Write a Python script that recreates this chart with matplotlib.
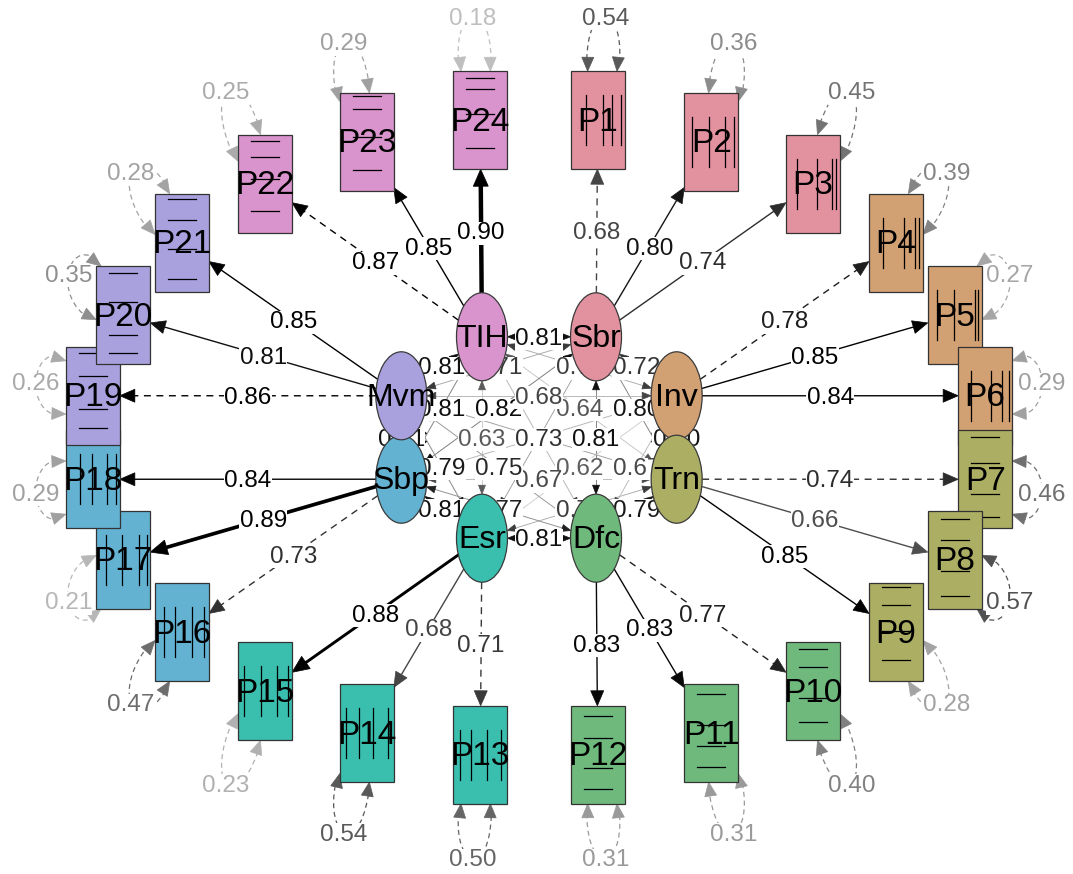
import numpy as np
import matplotlib
matplotlib.use("Agg")
import matplotlib.pyplot as plt
from matplotlib.patches import Ellipse, Rectangle, Polygon, PathPatch
from matplotlib.path import Path

plt.rcParams['font.family'] = ['Liberation Sans', 'DejaVu Sans']

# ---------------- data ----------------
latents = ["TIH", "Sbr", "Inv", "Trn", "Dfc", "Esr", "Sbp", "Mvm"]
latent_colors = ["#D993CD", "#E2919F", "#D1A073", "#ACAE64",
                 "#6FB97D", "#3ABEAE", "#63B2D2", "#A9A1DE"]

indicators = ["P%d" % i for i in range(1, 25)]
indicator_factor = (["Sbr"] * 3 + ["Inv"] * 3 + ["Trn"] * 3 + ["Dfc"] * 3 +
                    ["Esr"] * 3 + ["Sbp"] * 3 + ["Mvm"] * 3 + ["TIH"] * 3)
loadings = [0.68, 0.80, 0.74, 0.78, 0.85, 0.84, 0.74, 0.66, 0.85,
            0.77, 0.83, 0.83, 0.71, 0.68, 0.88, 0.73, 0.89, 0.84,
            0.86, 0.81, 0.85, 0.87, 0.85, 0.90]
fixed_first = [True, False, False] * 8
residuals = [0.54, 0.36, 0.45, 0.39, 0.27, 0.29, 0.46, 0.57, 0.28,
             0.40, 0.31, 0.31, 0.50, 0.54, 0.23, 0.47, 0.21, 0.29,
             0.26, 0.35, 0.28, 0.25, 0.29, 0.18]

thresholds = [
    [-1.3, 0.6, 1.6, 2.6], [-2.1, -0.3, 1.5, 2.5], [-1.8, 0.4, 2.1, 2.6],
    [-1.4, 0.9, 2.1, 2.6], [-2.0, -0.1, 2.2, 2.6], [-1.6, 0.7, 1.9, 2.6],
    [-2.3, -0.9, 1.0, 2.6], [-2.2, -0.7, 1.2, 2.5], [-1.7, 0.1, 1.7, 2.8],
    [-1.9, -0.4, 1.5, 2.6], [-2.1, -0.8, 0.5, 2.4], [-2.1, -0.8, 1.0, 2.4],
    [-2.3, -1.0, 0.7, 2.3], [-2.3, -0.9, 0.7, 2.4], [-2.3, -0.5, 1.3, 2.5],
    [-2.0, -0.8, 1.1, 2.5], [-1.9, -0.1, 1.8, 2.6], [-1.4, -0.1, 1.6, 2.6],
    [-2.0, -0.8, 1.2, 2.6], [-2.3, -1.2, 0.8, 2.6], [-2.2, -0.4, 1.4, 2.7],
    [-1.7, 0.3, 1.6, 2.6], [-1.7, 0.3, 2.0, 2.8], [-1.7, 0.4, 1.9, 2.6],
]
horizontal_factors = ["Trn", "Dfc", "Mvm", "TIH"]

cor_a = ["TIH", "TIH", "TIH", "TIH", "TIH", "TIH", "TIH",
         "Sbr", "Sbr", "Sbr", "Sbr", "Sbr", "Sbr",
         "Inv", "Inv", "Inv", "Inv", "Inv",
         "Trn", "Trn", "Trn", "Trn",
         "Dfc", "Dfc", "Dfc",
         "Esr", "Esr", "Sbp"]
cor_b = ["Sbr", "Inv", "Trn", "Dfc", "Esr", "Sbp", "Mvm",
         "Inv", "Trn", "Dfc", "Esr", "Sbp", "Mvm",
         "Trn", "Dfc", "Esr", "Sbp", "Mvm",
         "Dfc", "Esr", "Sbp", "Mvm",
         "Esr", "Sbp", "Mvm",
         "Sbp", "Mvm", "Mvm"]
cor_val = [0.81, 0.70, 0.64, 0.68, 0.63, 0.81, 0.81,
           0.72, 0.80, 0.81, 0.73, 0.82, 0.71,
           0.80, 0.67, 0.62, 0.68, 0.68,
           0.79, 0.70, 0.67, 0.73,
           0.81, 0.77, 0.75,
           0.81, 0.79, 0.81]

# ---------------- layout (pixel space) ----------------
W, H = 1073, 874
fig = plt.figure(figsize=(W / 100, H / 100), dpi=100)
ax = fig.add_axes([0, 0, 1, 1])
ax.set_xlim(0, W)
ax.set_ylim(H, 0)
ax.axis("off")

CX, CY = 539.0, 437.5
MAN_A, MAN_B = 450.0, 320.0
LAT_A, LAT_B = 149.0, 109.0
BOX_HW, BOX_HH = 27.0, 49.0
ELL_A, ELL_B = 25.5, 44.0


def dvec(deg):
    r = np.radians(deg)
    return np.array([np.sin(r), -np.cos(r)])


lat_pos = {}
for k, name in enumerate(latents):
    ang = -22.5 + 45 * k
    lat_pos[name] = np.array([CX + LAT_A * np.sin(np.radians(ang)),
                              CY - LAT_B * np.cos(np.radians(ang))])
lat_col = dict(zip(latents, latent_colors))

man_ang = [7.5 + 15 * i for i in range(24)]
man_pos = [np.array([CX + MAN_A * np.sin(np.radians(a)),
                     CY - MAN_B * np.cos(np.radians(a))]) for a in man_ang]


def box_border(c, d):
    tx = BOX_HW / abs(d[0]) if abs(d[0]) > 1e-9 else np.inf
    ty = BOX_HH / abs(d[1]) if abs(d[1]) > 1e-9 else np.inf
    return c + min(tx, ty) * d


def ell_border(c, d):
    t = 1.0 / np.sqrt((d[0] / ELL_A) ** 2 + (d[1] / ELL_B) ** 2)
    return c + t * d


def arrowhead(tip, d, length, halfw, color, z):
    d = d / np.linalg.norm(d)
    base = tip - length * d
    perp = np.array([-d[1], d[0]])
    ax.add_patch(Polygon([tip, base + halfw * perp, base - halfw * perp],
                         closed=True, fc=color, ec=color, lw=0.5, zorder=z))


def fade(v):
    g = float(np.clip((0.85 - v) * 1.6, 0, 0.5))
    return (g, g, g)


LBL = 17.5
bbox = dict(boxstyle="square,pad=0.02", fc="white", ec="none")

# ---------------- latent correlations ----------------
for a, b, v in zip(cor_a, cor_b, cor_val):
    p, q = lat_pos[a], lat_pos[b]
    d = (q - p) / np.linalg.norm(q - p)
    s = ell_border(p, d)
    e = ell_border(q, -d)
    col = fade(v)
    lc = tuple(min(1, x + 0.45) for x in col)
    ax.plot([s[0] + 7 * d[0], e[0] - 7 * d[0]], [s[1] + 7 * d[1], e[1] - 7 * d[1]],
            color=lc, lw=0.7, zorder=1)
    arrowhead(s, -d, 9, 3.5, col, 2)
    arrowhead(e, d, 9, 3.5, col, 2)
    m = (s + e) / 2 if np.dot(e - s, d) > 0 else (p + q) / 2
    ax.text(m[0], m[1] + 2, "%.2f" % v, ha="center", va="center", fontsize=LBL,
            color=col, bbox=bbox, zorder=3)

# ---------------- loadings ----------------
for i in range(24):
    f = indicator_factor[i]
    p = lat_pos[f]
    c = man_pos[i]
    v = loadings[i]
    d = (c - p) / np.linalg.norm(c - p)
    s = ell_border(p, d)
    e = box_border(c, -d)
    col = fade(v)
    lw = 1.0 if v < 0.875 else 1.0 + (v - 0.86) * 55
    ls = (0, (5, 4)) if fixed_first[i] else "-"
    alen = 15 if v < 0.875 else 17
    ax.plot([s[0], e[0] - alen * 0.8 * d[0]], [s[1], e[1] - alen * 0.8 * d[1]],
            color=col, lw=lw, ls=ls, zorder=1)
    arrowhead(e, d, alen, 6.5 if v < 0.875 else 7.5, col, 2)
    m = (s + e) / 2
    ax.text(m[0], m[1] + 2, "%.2f" % v, ha="center", va="center", fontsize=LBL,
            color=col, bbox=bbox, zorder=3)


# ---------------- residual loops (built in box-normalised space) ----------------
SCALE = np.array([BOX_HW, BOX_HH])


def norm_border(deg):
    d = dvec(deg)
    return d / max(abs(d[0]), abs(d[1]))


for i in range(24):
    c = man_pos[i]
    a = man_ang[i]
    v = residuals[i]
    g = float(np.clip(0.75 - (v - 0.18) * 1.11, 0.3, 0.8))
    col = (g, g, g)
    t1n = norm_border(a - 28)
    t2n = norm_border(a + 28)
    apex = norm_border(a) + 1.12 * dvec(a)
    P0 = t1n + 0.25 * dvec(a - 15)
    P3 = t2n + 0.25 * dvec(a + 15)
    Q = (apex - 0.125 * (P0 + P3)) / 0.75
    P1 = Q + 0.65 * dvec(a - 90)
    P2 = Q + 0.65 * dvec(a + 90)
    pts = [c + pt * SCALE for pt in (P0, P1, P2, P3)]
    path = Path(pts, [Path.MOVETO, Path.CURVE4, Path.CURVE4, Path.CURVE4])
    ax.add_patch(PathPatch(path, fc="none", ec=col, lw=0.9, ls=(0, (4, 3)),
                           zorder=1))
    T1 = c + t1n * SCALE
    T2 = c + t2n * SCALE
    arrowhead(T1, T1 - pts[1], 14, 6, col, 2)
    arrowhead(T2, T2 - pts[2], 14, 6, col, 2)
    mid = c + apex * SCALE
    ax.text(mid[0], mid[1] + 2, "%.2f" % v, ha="center", va="center",
            fontsize=LBL, color=col, bbox=bbox, zorder=3)

# ---------------- latent nodes ----------------
for k, name in enumerate(latents):
    p = lat_pos[name]
    ax.add_patch(Ellipse(p, 2 * ELL_A, 2 * ELL_B, fc=lat_col[name],
                         ec="#3a3a3a", lw=0.9, zorder=5 + 0.01 * k))
    ax.text(p[0], p[1] + 2, name, ha="center", va="center", fontsize=23,
            color="black", zorder=5.005 + 0.01 * k)

# ---------------- manifest nodes ----------------
for i in range(24):
    c = man_pos[i]
    f = indicator_factor[i]
    z = 6 + 0.01 * i
    ax.add_patch(Rectangle((c[0] - BOX_HW, c[1] - BOX_HH), 2 * BOX_HW, 2 * BOX_HH,
                           fc=lat_col[f], ec="#333333", lw=0.9, zorder=z))
    for t in thresholds[i]:
        frac = (t + 3) / 6.0
        if f in horizontal_factors:
            y = c[1] + BOX_HH - frac * 2 * BOX_HH
            ax.plot([c[0] - 14, c[0] + 14], [y, y], color="black", lw=0.9,
                    zorder=z + 0.003)
        else:
            x = c[0] - BOX_HW + frac * 2 * BOX_HW
            ax.plot([x, x], [c[1] - 25, c[1] + 25], color="black", lw=0.9,
                    zorder=z + 0.003)
    ax.text(c[0], c[1] + 2, indicators[i], ha="center", va="center", fontsize=24,
            color="black", zorder=z + 0.006)

fig.savefig("out.png", dpi=100)
